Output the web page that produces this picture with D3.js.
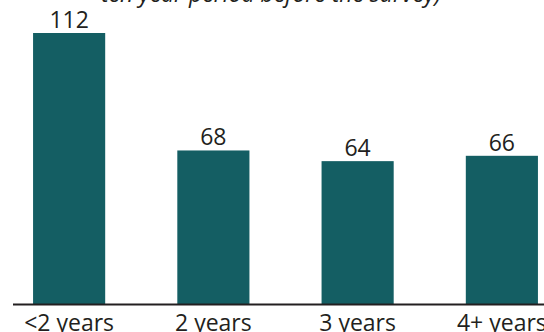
<!DOCTYPE html>
<html>
<head>
<meta charset="utf-8">
<script src="https://cdn.jsdelivr.net/npm/d3@7"></script>
<style>
  html, body { margin: 0; padding: 0; background: #fff; }
  svg { display: block; }
  text { font-family: "Open Sans", "Noto Sans", sans-serif; fill: #231f20; }
</style>
</head>
<body>
<svg id="chart" width="544" height="332"></svg>
<script>
// Duration categories and counts
const categories = ["<2 years", "2 years", "3 years", "4+ years"];
const counts = [112, 68, 64, 66];
const subtitle = "ten year period before the survey)";

const W = 544, H = 332;
const axisY = 304;
const svg = d3.select("#chart");

const x = d3.scaleBand()
  .domain(categories)
  .range([-3, 574])
  .paddingInner(0.5)
  .paddingOuter(0.25);

const y = d3.scaleLinear()
  .domain([0, 112])
  .range([332, 33]);

// Subtitle line (continues from above the plot)
svg.append("text")
  .attr("x", 271)
  .attr("y", 2)
  .attr("text-anchor", "middle")
  .attr("font-size", 24)
  .attr("font-style", "italic")
  .attr("textLength", 340)
  .attr("lengthAdjust", "spacingAndGlyphs")
  .text(subtitle);

// Bars
svg.selectAll("rect.bar")
  .data(counts)
  .join("rect")
  .attr("class", "bar")
  .attr("x", (d, i) => x(categories[i]))
  .attr("width", x.bandwidth())
  .attr("y", d => y(d))
  .attr("height", d => axisY - y(d))
  .attr("fill", "#145e63");

// Value labels
svg.selectAll("text.val")
  .data(counts)
  .join("text")
  .attr("class", "val")
  .attr("x", (d, i) => x(categories[i]) + x.bandwidth() / 2)
  .attr("y", d => y(d) - 5)
  .attr("text-anchor", "middle")
  .attr("font-size", 23)
  .text(d => d);

// Baseline axis with category labels
const axis = svg.append("g")
  .attr("transform", `translate(0,${axisY})`)
  .call(d3.axisBottom(x).tickSize(0).tickPadding(11));
axis.select(".domain").remove();
axis.selectAll("text")
  .attr("font-size", 23)
  .attr("font-family", "Open Sans, Noto Sans, sans-serif")
  .attr("fill", "#231f20");
axis.append("line")
  .attr("x1", 13).attr("x2", W)
  .attr("y1", 0.5).attr("y2", 0.5)
  .attr("stroke", "#231f20")
  .attr("stroke-width", 2);
</script>
</body>
</html>
